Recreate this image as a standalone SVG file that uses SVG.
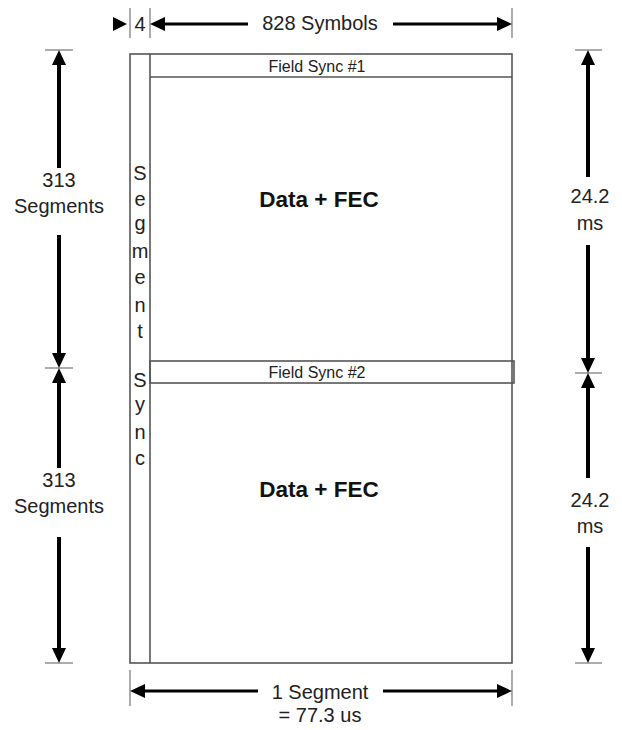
<svg xmlns="http://www.w3.org/2000/svg" width="622" height="730" viewBox="0 0 622 730">
<style>
.box{fill:none;stroke:#555;stroke-width:1.6}
.tick{stroke:#888;stroke-width:1.4}
.dim{stroke:#000;stroke-width:4;fill:none}
.dimt{stroke:#000;stroke-width:3;fill:none}
.lbl{font-family:"Liberation Sans",Arial,sans-serif;font-size:20px;fill:#222;text-anchor:middle}
.small{font-family:"Liberation Sans",Arial,sans-serif;font-size:16px;fill:#222;text-anchor:middle}
.big{font-family:"Liberation Sans",Arial,sans-serif;font-size:22.5px;font-weight:bold;fill:#111;text-anchor:middle}
.vert{font-family:"Liberation Sans",Arial,sans-serif;font-size:20px;fill:#222;text-anchor:middle}
</style>
<defs>
<marker id="ah" markerUnits="userSpaceOnUse" markerWidth="15" markerHeight="14" refX="4" refY="7" orient="auto-start-reverse" viewBox="0 0 15 14">
<path d="M0,0 L15,7 L0,14 z" fill="#000"/>
</marker>
</defs>
<g id="frame">
<rect class="box" x="130" y="54" width="382" height="609"/>
<line class="box" x1="150" y1="54" x2="150" y2="663"/>
</g>
<g id="field-sync-1">
<line class="box" x1="150" y1="77" x2="512" y2="77"/>
<text class="small" x="317" y="72">Field Sync #1</text>
</g>
<g id="data-fec-1">
<text class="big" x="319" y="207">Data + FEC</text>
</g>
<g id="field-sync-2">
<rect class="box" x="150" y="361" width="364" height="22" fill="#fff"/>
<text class="small" x="317" y="378">Field Sync #2</text>
</g>
<g id="data-fec-2">
<text class="big" x="319" y="497">Data + FEC</text>
</g>
<g id="segment-sync">
<text class="vert" x="140" y="180">S</text>
<text class="vert" x="140" y="206">e</text>
<text class="vert" x="140" y="230">g</text>
<text class="vert" x="140" y="258">m</text>
<text class="vert" x="140" y="284">e</text>
<text class="vert" x="140" y="312">n</text>
<text class="vert" x="140" y="338">t</text>
<text class="vert" x="140" y="387">S</text>
<text class="vert" x="140" y="411">y</text>
<text class="vert" x="140" y="439">n</text>
<text class="vert" x="140" y="465">c</text>
</g>
<g id="connectors">
<line class="tick" x1="130" y1="8" x2="130" y2="38"/>
<line class="tick" x1="150" y1="8" x2="150" y2="38"/>
<line class="tick" x1="512" y1="8" x2="512" y2="38"/>
<polygon points="113,17 127,24 113,31" fill="#000"/>
<line class="dimt" x1="161" y1="24" x2="248" y2="24" marker-start="url(#ah)"/>
<line class="dimt" x1="393" y1="24" x2="501" y2="24" marker-end="url(#ah)"/>
<line class="tick" x1="45" y1="50" x2="73" y2="50"/>
<line class="tick" x1="45" y1="368" x2="73" y2="368"/>
<line class="tick" x1="45" y1="663" x2="73" y2="663"/>
<line class="dim" x1="59" y1="61" x2="59" y2="168" marker-start="url(#ah)"/>
<line class="dim" x1="59" y1="235" x2="59" y2="357" marker-end="url(#ah)"/>
<line class="dim" x1="59" y1="379" x2="59" y2="468" marker-start="url(#ah)"/>
<line class="dim" x1="59" y1="537" x2="59" y2="652" marker-end="url(#ah)"/>
<line class="tick" x1="575" y1="50" x2="602" y2="50"/>
<line class="tick" x1="575" y1="373" x2="602" y2="373"/>
<line class="tick" x1="575" y1="663" x2="602" y2="663"/>
<line class="dim" x1="588" y1="61" x2="588" y2="177" marker-start="url(#ah)"/>
<line class="dim" x1="588" y1="245" x2="588" y2="362" marker-end="url(#ah)"/>
<line class="dim" x1="588" y1="384" x2="588" y2="478" marker-start="url(#ah)"/>
<line class="dim" x1="588" y1="547" x2="588" y2="652" marker-end="url(#ah)"/>
<line class="tick" x1="130" y1="670" x2="130" y2="706"/>
<line class="tick" x1="512" y1="670" x2="512" y2="706"/>
<line class="dimt" x1="141" y1="691" x2="258" y2="691" marker-start="url(#ah)"/>
<line class="dimt" x1="383" y1="691" x2="501" y2="691" marker-end="url(#ah)"/>
</g>
<g id="labels">
<text class="lbl" x="140" y="31">4</text>
<text class="lbl" x="320" y="30" font-size="21">828 Symbols</text>
<text class="lbl" x="59" y="187">313</text>
<text class="lbl" x="59" y="213">Segments</text>
<text class="lbl" x="59" y="487">313</text>
<text class="lbl" x="59" y="513">Segments</text>
<text class="lbl" x="590" y="203">24.2</text>
<text class="lbl" x="590" y="230">ms</text>
<text class="lbl" x="590" y="507">24.2</text>
<text class="lbl" x="590" y="533">ms</text>
<text class="lbl" x="320" y="699">1 Segment</text>
<text class="lbl" x="320" y="722">= 77.3 us</text>
</g>
</svg>
